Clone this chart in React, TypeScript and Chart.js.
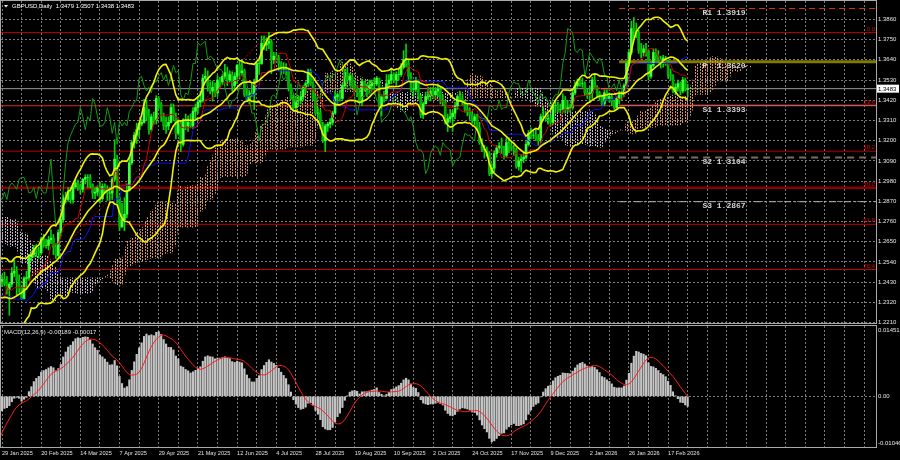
import React, { useEffect, useRef } from 'react';
import { Chart, registerables } from 'chart.js';
Chart.register(...registerables);

// ---------------- text ----------------
const titleText = 'GBPUSD,Daily  1.3479 1.3507 1.3438 1.3483';
const macdText = 'MACD(12,26,9) -0.00189 -0.00017';
const lastPriceText = '1.3483';

// ---------------- axes ----------------
const dateLabels = ['29 Jan 2025', '20 Feb 2025', '14 Mar 2025', '7 Apr 2025', '29 Apr 2025', '21 May 2025', '12 Jun 2025', '4 Jul 2025', '28 Jul 2025', '19 Aug 2025', '10 Sep 2025', '2 Oct 2025', '24 Oct 2025', '17 Nov 2025', '9 Dec 2025', '2 Jan 2026', '26 Jan 2026', '17 Feb 2026'];
const dateLabelStep = 16;
const gridStep = 8;
const priceTicks = [1.2210, 1.2320, 1.2430, 1.2540, 1.2650, 1.2760, 1.2870, 1.2980, 1.3090, 1.3200, 1.3310, 1.3420, 1.3530, 1.3640, 1.3750, 1.3860];
const priceMin = 1.2208;
const priceMax = 1.3960;
const macdMin = -0.01046;
const macdMax = 0.01451;
const macdAxisLabels = ['0.01451', '0.00', '-0.01046'];
const barMinX = -0.41;
const barMaxX = 356.9;

// ---------------- levels ----------------
const fibLevels = [1.3788, 1.3390, 1.3143, 1.2944, 1.2745, 1.2499];
const fibLabels = ['0.0', '23.6', '38.2', '50.0', '61.8', '76.4'];
const fibAnchorBars = [-12, 109];
const fibAnchorPrices = [1.2100, 1.3788];
const pivotLabels = ['R1 1.3919', 'P  1.3620', 'S1 1.3393', 'S2 1.3104', 'S3 1.2867'];
const pivotLevels = [1.3919, 1.3630, 1.3393, 1.3108, 1.2868];
const pivotStartBar = 252;
const pivotLabelBar = 286;
const lastPrice = 1.3483;

// ---------------- price history before the visible window (1 Oct 2024 .. 28 Jan 2025) ----------------
const histClose = [
  1.3290, 1.3240, 1.3120, 1.3125, 1.3085, 1.3095, 1.3070, 1.3065, 1.3065, 1.3055, 1.3070, 1.2995, 1.3015, 1.3050, 1.2995, 1.2975, 1.2920, 1.2975, 1.2960, 1.2970, 1.3010, 1.2960, 1.2895,
  1.2915, 1.2965, 1.3040, 1.2880, 1.2985, 1.2915, 1.2860, 1.2760, 1.2740, 1.2665, 1.2615, 1.2665, 1.2680, 1.2665, 1.2590, 1.2530, 1.2570, 1.2570, 1.2680, 1.2690, 1.2735,
  1.2650, 1.2670, 1.2700, 1.2755, 1.2745, 1.2765, 1.2765, 1.2755, 1.2665, 1.2615, 1.2685, 1.2705, 1.2600, 1.2505, 1.2570, 1.2530, 1.2525, 1.2530, 1.2565, 1.2550, 1.2515,
  1.2375, 1.2420, 1.2515, 1.2480, 1.2350, 1.2305, 1.2205, 1.2200, 1.2215, 1.2240, 1.2235, 1.2170, 1.2350, 1.2350, 1.2310, 1.2345, 1.2480, 1.2485, 1.2435,
];
const histHigh = [
  1.3400, 1.3310, 1.3250, 1.3175, 1.3145, 1.3120, 1.3110, 1.3100, 1.3085, 1.3085, 1.3095, 1.3075, 1.3060, 1.3070, 1.3065, 1.3015, 1.2980, 1.2995, 1.2990, 1.2990, 1.3045, 1.3045, 1.2985,
  1.2975, 1.2985, 1.3050, 1.3045, 1.2995, 1.2975, 1.2920, 1.2870, 1.2770, 1.2745, 1.2705, 1.2675, 1.2715, 1.2725, 1.2670, 1.2610, 1.2630, 1.2595, 1.2695, 1.2715, 1.2750,
  1.2735, 1.2705, 1.2725, 1.2770, 1.2805, 1.2780, 1.2790, 1.2810, 1.2775, 1.2680, 1.2710, 1.2730, 1.2725, 1.2670, 1.2590, 1.2615, 1.2555, 1.2555, 1.2575, 1.2605, 1.2575,
  1.2535, 1.2445, 1.2575, 1.2575, 1.2485, 1.2345, 1.2335, 1.2225, 1.2270, 1.2295, 1.2290, 1.2275, 1.2365, 1.2375, 1.2375, 1.2355, 1.2520, 1.2525, 1.2490,
];
const histLow = [
  1.3275, 1.3220, 1.3090, 1.3070, 1.3070, 1.3060, 1.3060, 1.3010, 1.3040, 1.3045, 1.3030, 1.2985, 1.2975, 1.3005, 1.2985, 1.2950, 1.2905, 1.2915, 1.2940, 1.2935, 1.2955, 1.2950, 1.2845,
  1.2885, 1.2905, 1.2945, 1.2845, 1.2875, 1.2905, 1.2855, 1.2740, 1.2700, 1.2630, 1.2600, 1.2595, 1.2640, 1.2645, 1.2575, 1.2485, 1.2535, 1.2520, 1.2565, 1.2660, 1.2665,
  1.2615, 1.2615, 1.2640, 1.2690, 1.2720, 1.2720, 1.2740, 1.2735, 1.2655, 1.2605, 1.2620, 1.2665, 1.2575, 1.2475, 1.2475, 1.2510, 1.2505, 1.2510, 1.2500, 1.2510, 1.2500,
  1.2355, 1.2350, 1.2405, 1.2470, 1.2320, 1.2240, 1.2195, 1.2100, 1.2160, 1.2155, 1.2200, 1.2160, 1.2160, 1.2290, 1.2295, 1.2300, 1.2335, 1.2400, 1.2420,
];

// ---------------- visible daily bars (29 Jan 2025 .. 27 Feb 2026) ----------------
const barClose = [
  1.2445, 1.2420, 1.2390, 1.2420, 1.2480, 1.2490, 1.2440, 1.2400, 1.2340, 1.2450, 1.2455, 1.2570, 1.2580, 1.2615, 1.2600, 1.2590, 1.2665, 1.2630, 1.2630, 1.2660, 1.2670, 1.2620, 1.2575,
  1.2700, 1.2770, 1.2890, 1.2880, 1.2920, 1.2880, 1.2950, 1.2970, 1.2955, 1.2935, 1.2990, 1.3000, 1.3000, 1.2960, 1.2915, 1.2920, 1.2945, 1.2885, 1.2950, 1.2940, 1.2915,
  1.2915, 1.2990, 1.3100, 1.2890, 1.2730, 1.2770, 1.2800, 1.2930, 1.3080, 1.3190, 1.3230, 1.3260, 1.3290, 1.3300, 1.3380, 1.3330, 1.3260, 1.3330, 1.3310, 1.3430, 1.3400, 1.3330,
  1.3280, 1.3280, 1.3300, 1.3380, 1.3330, 1.3240, 1.3300, 1.3180, 1.3310, 1.3280, 1.3300, 1.3280, 1.3360, 1.3380, 1.3410, 1.3420, 1.3540, 1.3550, 1.3500, 1.3470, 1.3490, 1.3460,
  1.3530, 1.3520, 1.3550, 1.3570, 1.3530, 1.3560, 1.3500, 1.3550, 1.3610, 1.3570, 1.3580, 1.3450, 1.3420, 1.3460, 1.3450, 1.3520, 1.3620, 1.3620, 1.3730, 1.3720, 1.3730,
  1.3740, 1.3640, 1.3660, 1.3650, 1.3620, 1.3590, 1.3590, 1.3580, 1.3490, 1.3430, 1.3380, 1.3420, 1.3420, 1.3440, 1.3490, 1.3510, 1.3580, 1.3510, 1.3430, 1.3350, 1.3350, 1.3280, 1.3200,
  1.3280, 1.3290, 1.3300, 1.3350, 1.3440, 1.3450, 1.3430, 1.3500, 1.3570, 1.3530, 1.3550, 1.3500, 1.3490, 1.3460, 1.3410, 1.3520, 1.3480, 1.3480, 1.3500, 1.3510, 1.3510,
  1.3540, 1.3390, 1.3440, 1.3430, 1.3510, 1.3530, 1.3560, 1.3530, 1.3560, 1.3560, 1.3600, 1.3640, 1.3620, 1.3550, 1.3480, 1.3480, 1.3530, 1.3440, 1.3340, 1.3400, 1.3440, 1.3440,
  1.3470, 1.3450, 1.3470, 1.3480, 1.3420, 1.3410, 1.3300, 1.3320, 1.3330, 1.3350, 1.3390, 1.3440, 1.3430, 1.3410, 1.3370, 1.3360, 1.3340, 1.3310, 1.3330, 1.3270, 1.3190, 1.3150, 1.3150,
  1.3130, 1.3020, 1.3050, 1.3130, 1.3160, 1.3170, 1.3160, 1.3120, 1.3190, 1.3170, 1.3160, 1.3150, 1.3060, 1.3090, 1.3100, 1.3110, 1.3180, 1.3240, 1.3230, 1.3230,
  1.3210, 1.3200, 1.3330, 1.3330, 1.3320, 1.3320, 1.3300, 1.3390, 1.3390, 1.3370, 1.3370, 1.3420, 1.3370, 1.3380, 1.3380, 1.3460, 1.3500, 1.3520, 1.3510, 1.3510, 1.3460, 1.3450,
  1.3460, 1.3530, 1.3490, 1.3460, 1.3440, 1.3400, 1.3460, 1.3430, 1.3440, 1.3410, 1.3380, 1.3430, 1.3450, 1.3450, 1.3500, 1.3620, 1.3680, 1.3810, 1.3800, 1.3790, 1.3690,
  1.3680, 1.3700, 1.3690, 1.3550, 1.3610, 1.3680, 1.3660, 1.3640, 1.3620, 1.3650, 1.3630, 1.3560, 1.3550, 1.3470, 1.3490, 1.3510, 1.3470, 1.3530, 1.3479, 1.3483,
];
const barHigh = [
  1.2470, 1.2485, 1.2460, 1.2430, 1.2510, 1.2550, 1.2515, 1.2470, 1.2410, 1.2460, 1.2490, 1.2580, 1.2600, 1.2630, 1.2635, 1.2620, 1.2675, 1.2690, 1.2665, 1.2680, 1.2715, 1.2690, 1.2640,
  1.2715, 1.2790, 1.2905, 1.2920, 1.2945, 1.2945, 1.2965, 1.2990, 1.2985, 1.2965, 1.2995, 1.3015, 1.3015, 1.3015, 1.2965, 1.2945, 1.2955, 1.2975, 1.2965, 1.2965, 1.2955,
  1.2945, 1.3000, 1.3205, 1.3120, 1.2900, 1.2860, 1.2890, 1.2965, 1.3110, 1.3200, 1.3245, 1.3295, 1.3295, 1.3315, 1.3425, 1.3420, 1.3370, 1.3345, 1.3355, 1.3445, 1.3440, 1.3410,
  1.3350, 1.3330, 1.3330, 1.3400, 1.3400, 1.3350, 1.3320, 1.3310, 1.3320, 1.3345, 1.3335, 1.3345, 1.3380, 1.3400, 1.3440, 1.3470, 1.3560, 1.3595, 1.3580, 1.3520, 1.3525, 1.3515,
  1.3555, 1.3545, 1.3560, 1.3615, 1.3600, 1.3580, 1.3575, 1.3570, 1.3615, 1.3630, 1.3635, 1.3590, 1.3480, 1.3475, 1.3515, 1.3535, 1.3630, 1.3640, 1.3770, 1.3770, 1.3760,
  1.3790, 1.3750, 1.3680, 1.3680, 1.3665, 1.3630, 1.3625, 1.3620, 1.3590, 1.3510, 1.3450, 1.3440, 1.3445, 1.3470, 1.3500, 1.3520, 1.3590, 1.3590, 1.3520, 1.3450, 1.3380, 1.3370, 1.3300,
  1.3290, 1.3300, 1.3320, 1.3360, 1.3470, 1.3460, 1.3475, 1.3510, 1.3590, 1.3595, 1.3565, 1.3560, 1.3530, 1.3500, 1.3485, 1.3535, 1.3525, 1.3510, 1.3530, 1.3530, 1.3540,
  1.3550, 1.3540, 1.3450, 1.3470, 1.3560, 1.3560, 1.3595, 1.3570, 1.3575, 1.3590, 1.3620, 1.3690, 1.3725, 1.3640, 1.3570, 1.3520, 1.3545, 1.3530, 1.3450, 1.3410, 1.3465, 1.3490,
  1.3490, 1.3490, 1.3490, 1.3510, 1.3490, 1.3450, 1.3420, 1.3345, 1.3370, 1.3365, 1.3410, 1.3450, 1.3470, 1.3455, 1.3420, 1.3400, 1.3380, 1.3360, 1.3345, 1.3345, 1.3300, 1.3210, 1.3175,
  1.3165, 1.3140, 1.3075, 1.3145, 1.3175, 1.3190, 1.3215, 1.3170, 1.3215, 1.3215, 1.3190, 1.3175, 1.3160, 1.3110, 1.3125, 1.3135, 1.3195, 1.3255, 1.3270, 1.3255,
  1.3260, 1.3235, 1.3345, 1.3385, 1.3360, 1.3345, 1.3340, 1.3395, 1.3420, 1.3410, 1.3400, 1.3455, 1.3440, 1.3420, 1.3400, 1.3480, 1.3520, 1.3535, 1.3535, 1.3540, 1.3520, 1.3480,
  1.3495, 1.3545, 1.3565, 1.3500, 1.3470, 1.3450, 1.3480, 1.3480, 1.3460, 1.3455, 1.3420, 1.3440, 1.3470, 1.3470, 1.3510, 1.3630, 1.3695, 1.3850, 1.3870, 1.3840, 1.3800,
  1.3730, 1.3720, 1.3730, 1.3690, 1.3625, 1.3700, 1.3700, 1.3690, 1.3660, 1.3665, 1.3660, 1.3640, 1.3590, 1.3560, 1.3510, 1.3530, 1.3520, 1.3545, 1.3540, 1.3507,
];
const barLow = [
  1.2405, 1.2410, 1.2365, 1.2250, 1.2405, 1.2460, 1.2355, 1.2375, 1.2335, 1.2335, 1.2390, 1.2440, 1.2545, 1.2565, 1.2570, 1.2560, 1.2580, 1.2620, 1.2615, 1.2605, 1.2640, 1.2580, 1.2560,
  1.2565, 1.2680, 1.2755, 1.2860, 1.2870, 1.2860, 1.2860, 1.2940, 1.2930, 1.2910, 1.2920, 1.2965, 1.2945, 1.2945, 1.2885, 1.2885, 1.2900, 1.2860, 1.2875, 1.2915, 1.2875,
  1.2875, 1.2880, 1.2980, 1.2860, 1.2710, 1.2735, 1.2710, 1.2780, 1.2925, 1.3070, 1.3160, 1.3185, 1.3220, 1.3280, 1.3295, 1.3310, 1.3235, 1.3250, 1.3290, 1.3290, 1.3375, 1.3305,
  1.3260, 1.3240, 1.3260, 1.3295, 1.3310, 1.3210, 1.3230, 1.3140, 1.3170, 1.3260, 1.3250, 1.3270, 1.3265, 1.3320, 1.3350, 1.3385, 1.3410, 1.3530, 1.3470, 1.3455, 1.3415, 1.3440,
  1.3440, 1.3490, 1.3505, 1.3535, 1.3500, 1.3520, 1.3470, 1.3475, 1.3510, 1.3535, 1.3555, 1.3440, 1.3415, 1.3400, 1.3440, 1.3370, 1.3520, 1.3560, 1.3615, 1.3695, 1.3690,
  1.3700, 1.3565, 1.3620, 1.3640, 1.3580, 1.3560, 1.3565, 1.3555, 1.3470, 1.3425, 1.3370, 1.3365, 1.3385, 1.3400, 1.3420, 1.3460, 1.3495, 1.3500, 1.3420, 1.3340, 1.3320, 1.3265, 1.3190,
  1.3140, 1.3250, 1.3270, 1.3285, 1.3345, 1.3400, 1.3415, 1.3420, 1.3490, 1.3520, 1.3500, 1.3490, 1.3475, 1.3440, 1.3400, 1.3390, 1.3470, 1.3440, 1.3460, 1.3470, 1.3480,
  1.3500, 1.3380, 1.3335, 1.3410, 1.3425, 1.3495, 1.3510, 1.3515, 1.3500, 1.3530, 1.3550, 1.3590, 1.3600, 1.3530, 1.3465, 1.3440, 1.3465, 1.3425, 1.3325, 1.3320, 1.3400, 1.3420,
  1.3415, 1.3430, 1.3425, 1.3440, 1.3400, 1.3390, 1.3290, 1.3250, 1.3300, 1.3250, 1.3320, 1.3370, 1.3415, 1.3395, 1.3355, 1.3335, 1.3315, 1.3295, 1.3285, 1.3255, 1.3180, 1.3140, 1.3105,
  1.3115, 1.3010, 1.3000, 1.3030, 1.3110, 1.3135, 1.3130, 1.3100, 1.3110, 1.3135, 1.3145, 1.3120, 1.3050, 1.3040, 1.3030, 1.3080, 1.3100, 1.3170, 1.3210, 1.3210,
  1.3200, 1.3175, 1.3190, 1.3310, 1.3305, 1.3290, 1.3280, 1.3290, 1.3350, 1.3355, 1.3350, 1.3355, 1.3350, 1.3355, 1.3355, 1.3370, 1.3450, 1.3490, 1.3495, 1.3490, 1.3445, 1.3430,
  1.3410, 1.3430, 1.3480, 1.3440, 1.3420, 1.3390, 1.3390, 1.3420, 1.3410, 1.3390, 1.3370, 1.3375, 1.3400, 1.3420, 1.3440, 1.3490, 1.3610, 1.3670, 1.3760, 1.3760, 1.3675,
  1.3650, 1.3660, 1.3660, 1.3530, 1.3540, 1.3600, 1.3640, 1.3620, 1.3595, 1.3600, 1.3610, 1.3540, 1.3530, 1.3460, 1.3450, 1.3470, 1.3450, 1.3460, 1.3470, 1.3438,
];

// indicator settings
const bbPeriod = 20, bbDev = 2;
const tenkanP = 9, kijunP = 26, senkouP = 52;
const macdFast = 12, macdSlow = 26, macdSig = 9;

type P = { x: number; y: number };

function buildSeries() {
  const close = [...histClose, ...barClose];
  const off = histClose.length;
  const n = close.length;
  const open = close.map((c, k) => (k === 0 ? c : close[k - 1]));
  const high = [...histHigh, ...barHigh].map((h, k) => Math.max(h, open[k], close[k]));
  const low = [...histLow, ...barLow].map((l, k) => Math.min(l, open[k], close[k]));
  const midHL = (k: number, p: number) => {
    if (k - p + 1 < 0) return null;
    let hi = -Infinity, lo = Infinity;
    for (let j = k - p + 1; j <= k; j++) { hi = Math.max(hi, high[j]); lo = Math.min(lo, low[j]); }
    return (hi + lo) / 2;
  };
  const wick: any[] = [], body: any[] = [], bodyColors: string[] = [];
  for (let d = 0; d < barClose.length; d++) {
    const k = d + off;
    wick.push({ x: d, y: [low[k], high[k]] });
    body.push({ x: d, y: [open[k], close[k]] });
    bodyColors.push(close[k] >= open[k] ? '#3dff3d' : '#00b000');
  }
  const bbU: P[] = [], bbM: P[] = [], bbL: P[] = [], tenkan: P[] = [], kijun: P[] = [];
  for (let k = off - 1; k < n; k++) {
    const d = k - off;
    let s = 0; for (let j = k - bbPeriod + 1; j <= k; j++) s += close[j];
    const m = s / bbPeriod;
    let v = 0; for (let j = k - bbPeriod + 1; j <= k; j++) v += (close[j] - m) ** 2;
    const sd = Math.sqrt(v / bbPeriod);
    bbM.push({ x: d, y: m }); bbU.push({ x: d, y: m + bbDev * sd }); bbL.push({ x: d, y: m - bbDev * sd });
    tenkan.push({ x: d, y: midHL(k, tenkanP) as number });
    kijun.push({ x: d, y: midHL(k, kijunP) as number });
  }
  const spanA: P[] = [], spanB: P[] = [];
  for (let k = off - kijunP - 1; k < n; k++) {
    const d = k + kijunP - off;
    const t = midHL(k, tenkanP), kj = midHL(k, kijunP), b = midHL(k, senkouP);
    if (t == null || kj == null || b == null) continue;
    spanA.push({ x: d, y: (t + kj) / 2 });
    spanB.push({ x: d, y: b });
  }
  const chikou: P[] = [];
  for (let k = off + kijunP - 1; k < n; k++) chikou.push({ x: k - kijunP - off, y: close[k] });
  const af = 2 / (macdFast + 1), as = 2 / (macdSlow + 1);
  let ef = close[0], es = close[0];
  const macd: number[] = [];
  for (let k = 0; k < n; k++) {
    if (k > 0) { ef = ef + af * (close[k] - ef); es = es + as * (close[k] - es); }
    macd.push(ef - es);
  }
  const hist: P[] = [], signal: P[] = [];
  for (let k = off - 1; k < n; k++) {
    const d = k - off;
    let s = 0; for (let j = k - macdSig + 1; j <= k; j++) s += macd[j];
    signal.push({ x: d, y: s / macdSig });
    if (d >= 0) hist.push({ x: d, y: macd[k] });
  }
  return { wick, body, bodyColors, bbU, bbM, bbL, tenkan, kijun, spanA, spanB, chikou, hist, signal };
}

const FONT = '"Liberation Sans", Arial, sans-serif';
const gridColor = '#7c7c7c';

function gridBars() {
  const t: { value: number }[] = [];
  for (let v = 0; v <= barMaxX; v += gridStep) t.push({ value: v });
  return t;
}

export default function App() {
  const mainRef = useRef<HTMLCanvasElement>(null);
  const macdRef = useRef<HTMLCanvasElement>(null);

  useEffect(() => {
    document.body.style.margin = '0';
    document.body.style.background = '#000';
    const s = buildSeries();
    const mainCanvas = mainRef.current!;
    const mctx = mainCanvas.getContext('2d')!;
    const mkPattern = (color: string) => {
      const c = document.createElement('canvas');
      c.width = 5; c.height = 3;
      const g = c.getContext('2d')!;
      g.fillStyle = color;
      g.fillRect(0, 0, 1, 2);
      g.fillRect(2, 1, 1, 2);
      return mctx.createPattern(c, 'repeat');
    };
    const patUp = mkPattern('#d89058');
    const patDn = mkPattern('#c8b4c8');

    const hLine = (v: number, from: number) => [{ x: from, y: v }, { x: barMaxX, y: v }];
    const line = (data: any, color: string, width: number, order: number, extra: any = {}) => ({
      type: 'line', data, borderColor: color, borderWidth: width, pointRadius: 0, tension: 0, fill: false, order, ...extra,
    });

    const fibColors = ['#c00000', '#d42a2a', '#b80000', '#8a0000', '#c40000', '#c40000'];
    const fibWidths = [1, 1, 1, 2.5, 1, 1];
    const pivotStyles = [
      { c: '#d23a14', w: 1, dash: [6, 4] },
      { c: '#7f7a00', w: 3, dash: [] },
      { c: '#e07070', w: 1, dash: [] },
      { c: '#7a6a66', w: 2, dash: [7, 5] },
      { c: '#bdb0b0', w: 1, dash: [7, 3, 2, 3] },
    ];

    const datasets: any[] = [];
    datasets.push(line(s.spanB, 'rgba(0,0,0,0)', 0, 30));
    datasets.push(line(s.spanA, 'rgba(0,0,0,0)', 0, 29, { fill: { target: 0, above: patUp, below: patDn } }));
    fibLevels.forEach((v, i) => datasets.push(line(hLine(v, barMinX), fibColors[i], fibWidths[i], 40)));
    datasets.push(line(fibAnchorBars.map((b, i) => ({ x: b, y: fibAnchorPrices[i] })), '#c00000', 1, 39, { borderDash: [2, 2] }));
    pivotLevels.forEach((v, i) => datasets.push(line(hLine(v, pivotStartBar), pivotStyles[i].c, pivotStyles[i].w, 38, { borderDash: pivotStyles[i].dash })));
    datasets.push(line(hLine(lastPrice, barMinX), '#9a9a9a', 1, 37));
    datasets.push({ type: 'bar', data: s.wick, backgroundColor: '#00d800', barThickness: 1, grouped: false, order: 12 });
    datasets.push({ type: 'bar', data: s.body, backgroundColor: s.bodyColors, barThickness: 2, grouped: false, order: 11 });
    datasets.push(line(s.chikou, '#139b13', 1, 6));
    datasets.push(line(s.kijun, '#1010f0', 1, 5));
    datasets.push(line(s.tenkan, '#d00000', 1, 4));
    datasets.push(line(s.bbL, '#f2f200', 1.6, 3));
    datasets.push(line(s.bbM, '#f2f200', 1.6, 2));
    datasets.push(line(s.bbU, '#f2f200', 1.6, 1));

    const frame = (chart: any) => {
      const { ctx, chartArea: a } = chart;
      ctx.save();
      ctx.strokeStyle = '#a8a8a8';
      ctx.lineWidth = 1;
      ctx.strokeRect(Math.round(a.left) - 0.5, Math.round(a.top) - 0.5, Math.round(a.right - a.left) + 1, Math.round(a.bottom - a.top) + 1);
      ctx.restore();
    };

    const mainOverlay = {
      id: 'mainOverlay',
      afterDraw(chart: any) {
        const { ctx, chartArea: a, scales } = chart;
        const x = scales.x, y = scales.y;
        frame(chart);
        ctx.save();
        ctx.fillStyle = '#ffffff';
        ctx.beginPath(); ctx.moveTo(4, 5); ctx.lineTo(8, 5); ctx.lineTo(6, 7.5); ctx.closePath(); ctx.fill();
        ctx.font = `6px ${FONT}`;
        ctx.textBaseline = 'middle'; ctx.textAlign = 'left';
        ctx.fillText(titleText, 12, 6.5);
        ctx.fillStyle = '#e00000';
        ctx.textAlign = 'right'; ctx.textBaseline = 'bottom';
        fibLevels.forEach((v, i) => ctx.fillText(fibLabels[i], a.right - 1, y.getPixelForValue(v) - 0.5));
        ctx.font = 'bold 8px "Liberation Mono", monospace';
        ctx.fillStyle = '#d4d4d4';
        ctx.textAlign = 'left'; ctx.textBaseline = 'middle';
        pivotLevels.forEach((v, i) => ctx.fillText(pivotLabels[i], x.getPixelForValue(pivotLabelBar), y.getPixelForValue(v) + 4.5));
        const py = y.getPixelForValue(lastPrice);
        ctx.fillStyle = '#ffffff';
        ctx.fillRect(a.right + 1, py - 4, 22, 8);
        ctx.fillStyle = '#000000';
        ctx.font = `6px ${FONT}`;
        ctx.fillText(lastPriceText, a.right + 2, py + 0.5);
        ctx.restore();
      },
    };

    const mainChart = new Chart(mainCanvas, {
      type: 'bar',
      data: { datasets },
      options: {
        animation: false,
        responsive: false,
        events: [],
        layout: { padding: { left: 1, top: 1, right: 0, bottom: 1 } },
        plugins: { legend: { display: false }, tooltip: { enabled: false }, filler: { propagate: false } },
        scales: {
          x: {
            type: 'linear', min: barMinX, max: barMaxX, offset: false,
            afterBuildTicks: (sc: any) => { sc.ticks = gridBars(); },
            afterFit: (sc: any) => { sc.height = 0; sc.paddingLeft = 0; sc.paddingRight = 0; },
            ticks: { display: false },
            grid: { color: gridColor, drawTicks: false, offset: false, lineWidth: 1 },
            border: { display: false, dash: [2, 2] },
          },
          y: {
            type: 'linear', position: 'right', min: priceMin, max: priceMax,
            afterBuildTicks: (sc: any) => { sc.ticks = priceTicks.map((v) => ({ value: v })); },
            afterFit: (sc: any) => { sc.width = 24; sc.paddingTop = 0; sc.paddingBottom = 0; },
            ticks: { color: '#e6e6e6', font: { size: 6, family: FONT }, padding: 2, callback: (v: any) => Number(v).toFixed(4) },
            grid: { color: gridColor, drawTicks: false, lineWidth: 1 },
            border: { display: false, dash: [2, 2] },
          },
        },
      } as any,
      plugins: [mainOverlay],
    });

    const macdOverlay = {
      id: 'macdOverlay',
      afterDraw(chart: any) {
        const { ctx, chartArea: a, scales } = chart;
        const y = scales.y;
        frame(chart);
        ctx.save();
        ctx.fillStyle = '#e6e6e6';
        ctx.font = `6px ${FONT}`;
        ctx.textAlign = 'left'; ctx.textBaseline = 'middle';
        ctx.fillText(macdText, 4, a.top + 6);
        ctx.fillText(macdAxisLabels[0], a.right + 2, a.top + 4);
        ctx.fillText(macdAxisLabels[1], a.right + 2, y.getPixelForValue(0));
        ctx.fillText(macdAxisLabels[2], a.right + 2, a.bottom - 4);
        ctx.restore();
      },
    };

    const macdChart = new Chart(macdRef.current!, {
      type: 'bar',
      data: {
        datasets: [
          { type: 'line', data: s.signal, borderColor: '#ff1a1a', borderWidth: 1, pointRadius: 0, tension: 0, order: 1 },
          { type: 'bar', data: s.hist, backgroundColor: '#c4c4c4', barThickness: 1.5, grouped: false, order: 2 },
        ],
      },
      options: {
        animation: false,
        responsive: false,
        events: [],
        layout: { padding: { left: 1, top: 2, right: 0, bottom: 0 } },
        plugins: { legend: { display: false }, tooltip: { enabled: false } },
        scales: {
          x: {
            type: 'linear', min: barMinX, max: barMaxX, offset: false,
            afterBuildTicks: (sc: any) => { sc.ticks = gridBars(); },
            afterFit: (sc: any) => { sc.height = 13; sc.paddingLeft = 0; sc.paddingRight = 0; },
            ticks: {
              display: true, autoSkip: false, maxRotation: 0, minRotation: 0, align: 'start', padding: 3,
              color: '#e0e0e0', font: { size: 5.6, family: FONT },
              callback: (v: any) => (Number(v) % dateLabelStep === 0 ? dateLabels[Number(v) / dateLabelStep] ?? '' : ''),
            },
            grid: { color: gridColor, drawTicks: false, offset: false, lineWidth: 1 },
            border: { display: false, dash: [2, 2] },
          },
          y: {
            type: 'linear', position: 'right', min: macdMin, max: macdMax,
            afterBuildTicks: (sc: any) => { sc.ticks = [{ value: 0 }]; },
            afterFit: (sc: any) => { sc.width = 24; sc.paddingTop = 0; sc.paddingBottom = 0; },
            ticks: { display: false },
            grid: { color: gridColor, drawTicks: false, lineWidth: 1 },
            border: { display: false, dash: [2, 2] },
          },
        },
      } as any,
      plugins: [macdOverlay],
    });

    return () => { mainChart.destroy(); macdChart.destroy(); };
  }, []);

  return (
    <div style={{ position: 'fixed', left: 0, top: 0, width: 900, height: 460, background: '#000', overflow: 'hidden' }}>
      <canvas ref={mainRef} width={900} height={324} style={{ position: 'absolute', left: 0, top: 0, width: 900, height: 324 }} />
      <canvas ref={macdRef} width={900} height={136} style={{ position: 'absolute', left: 0, top: 324, width: 900, height: 136 }} />
    </div>
  );
}
